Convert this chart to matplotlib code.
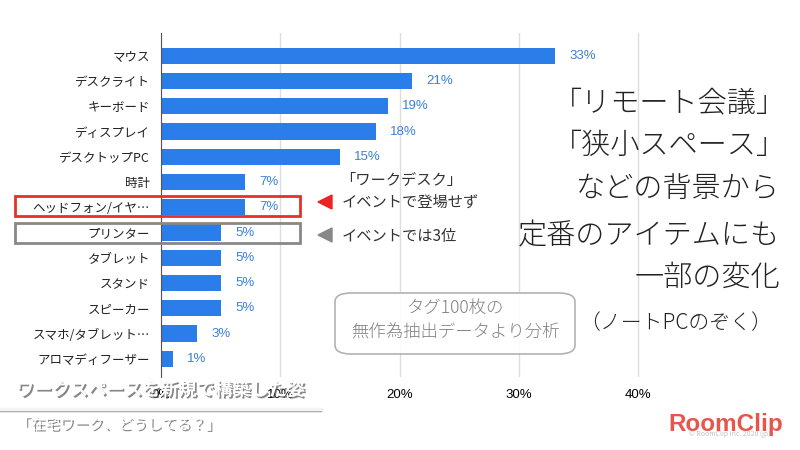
import matplotlib.pyplot as plt
import matplotlib.patheffects as pe
from matplotlib.patches import Rectangle, FancyBboxPatch, Polygon
from matplotlib.ticker import FuncFormatter

plt.rcParams['font.family'] = ['Noto Sans CJK JP', 'DejaVu Sans']

# Data
items = ["マウス", "デスクライト", "キーボード", "ディスプレイ", "デスクトップPC",
         "時計", "ヘッドフォン/イヤ…", "プリンター", "タブレット", "スタンド",
         "スピーカー", "スマホ/タブレット…", "アロマディフーザー"]
shares = [33, 21, 19, 18, 15, 7, 7, 5, 5, 5, 5, 3, 1]
x_ticks = [0, 10, 20, 30, 40]

W, H = 800, 450
bar_color = "#2b7de9"
label_color = "#3a7fd8"


def fx(px):
    return px / W


def fy(py):
    return 1 - py / H


fig = plt.figure(figsize=(8, 4.5), dpi=100)
ax = fig.add_axes([fx(161), fy(377), fx(698) - fx(161), fy(33) - fy(377)])

pos = list(range(len(items)))
ax.barh(pos, shares, height=0.64, color=bar_color, zorder=3)
for p, v in zip(pos, shares):
    ax.text(v + 1.2, p, f"{v}%", va="center", ha="left",
            fontsize=9.5, color=label_color, family=["Liberation Sans", "DejaVu Sans"])

ax.set_xlim(0, 45)
ax.set_ylim(12.72, -0.9)
ax.set_yticks(pos)
ax.set_yticklabels(items, fontsize=9, color="#222222")
ax.set_xticks(x_ticks)
ax.xaxis.set_major_formatter(FuncFormatter(lambda v, _: f"{v:.0f}%"))
for t in ax.get_xticklabels():
    t.set_fontsize(9.5)
    t.set_family(["Liberation Sans", "DejaVu Sans"])
ax.tick_params(axis="both", length=0, pad=8)
ax.tick_params(axis="x", pad=9)
ax.grid(axis="x", color="#dddddd", linewidth=1, zorder=0)
for s in ["top", "right", "bottom"]:
    ax.spines[s].set_visible(False)
ax.spines["left"].set_color("#555555")
ax.spines["left"].set_zorder(4)

# Highlight boxes around two rows
fig.add_artist(Rectangle((fx(15), fy(216)), fx(300) - fx(15), fy(196) - fy(216),
                         transform=fig.transFigure, fill=False,
                         edgecolor="#e8302a", linewidth=2))
fig.add_artist(Rectangle((fx(15), fy(243)), fx(300) - fx(15), fy(223) - fy(243),
                         transform=fig.transFigure, fill=False,
                         edgecolor="#888888", linewidth=2))

# Triangle markers and notes
fig.add_artist(Polygon([(fx(318), fy(202)), (fx(332), fy(195)), (fx(332), fy(209))],
                       closed=True, transform=fig.transFigure, color="#ee2222"))
fig.add_artist(Polygon([(fx(318), fy(235)), (fx(332), fy(228)), (fx(332), fy(242))],
                       closed=True, transform=fig.transFigure, color="#888888"))
note = dict(fontsize=11, color="#333333", va="center", ha="left")
fig.text(fx(340), fy(181), "「ワークデスク」", **note)
fig.text(fx(342), fy(202), "イベントで登場せず", **note)
fig.text(fx(342), fy(236), "イベントでは3位", **note)

# Right side message
msg = dict(fontsize=21, color="#222222", ha="right", va="center", weight="light")
fig.text(fx(786), fy(103), "「リモート会議」", **msg)
fig.text(fx(786), fy(146), "「狭小スペース」", **msg)
fig.text(fx(780), fy(189), "などの背景から", **msg)
fig.text(fx(780), fy(236), "定番のアイテムにも", **msg)
fig.text(fx(780), fy(278), "一部の変化", **msg)
fig.text(fx(772), fy(323), "（ノートPCのぞく）", fontsize=15, color="#222222",
         ha="right", va="center", weight="light")

# Source note box
fig.add_artist(FancyBboxPatch((fx(335), fy(354)), fx(575) - fx(335), fy(293) - fy(354),
                              boxstyle="round,pad=0,rounding_size=0.02",
                              transform=fig.transFigure, facecolor="white",
                              edgecolor="#aaaaaa", linewidth=1.2, alpha=0.9))
fig.text(fx(455), fy(308), "タグ100枚の", fontsize=12.5, color="#808080",
         ha="center", va="center", weight="light")
fig.text(fx(455), fy(333), "無作為抽出データより分析", fontsize=12.5, color="#808080",
         ha="center", va="center", weight="light")

# Video caption overlay
shadow = [pe.SimplePatchShadow(offset=(1.2, -1.2), shadow_rgbFace="#555555", alpha=0.7),
          pe.Normal()]
fig.text(fx(16), fy(390), "ワークスペースを新規で構築した姿", fontsize=13,
         color="white", ha="left", va="center", weight="bold", path_effects=shadow)
line = plt.Line2D([0, fx(320)], [fy(409), fy(409)], transform=fig.transFigure,
                  color="#f4f4f4", linewidth=2.5,
                  path_effects=[pe.SimpleLineShadow(offset=(0, -1), alpha=0.4), pe.Normal()])
fig.add_artist(line)
fig.text(fx(16), fy(425), "「在宅ワーク、どうしてる？」", fontsize=10.5,
         color="white", ha="left", va="center", path_effects=shadow)

# Logo
fig.text(fx(726), fy(424), "RoomClip", fontsize=17.5, color="#e8554a",
         ha="center", va="center", weight="bold", family=["Liberation Sans", "DejaVu Sans"])
fig.text(fx(730), fy(434), "© RoomClip Inc. 2020 (jp)", fontsize=5, color="#999999",
         ha="center", va="center", alpha=0.6)

fig.savefig("out.png", dpi=100)
